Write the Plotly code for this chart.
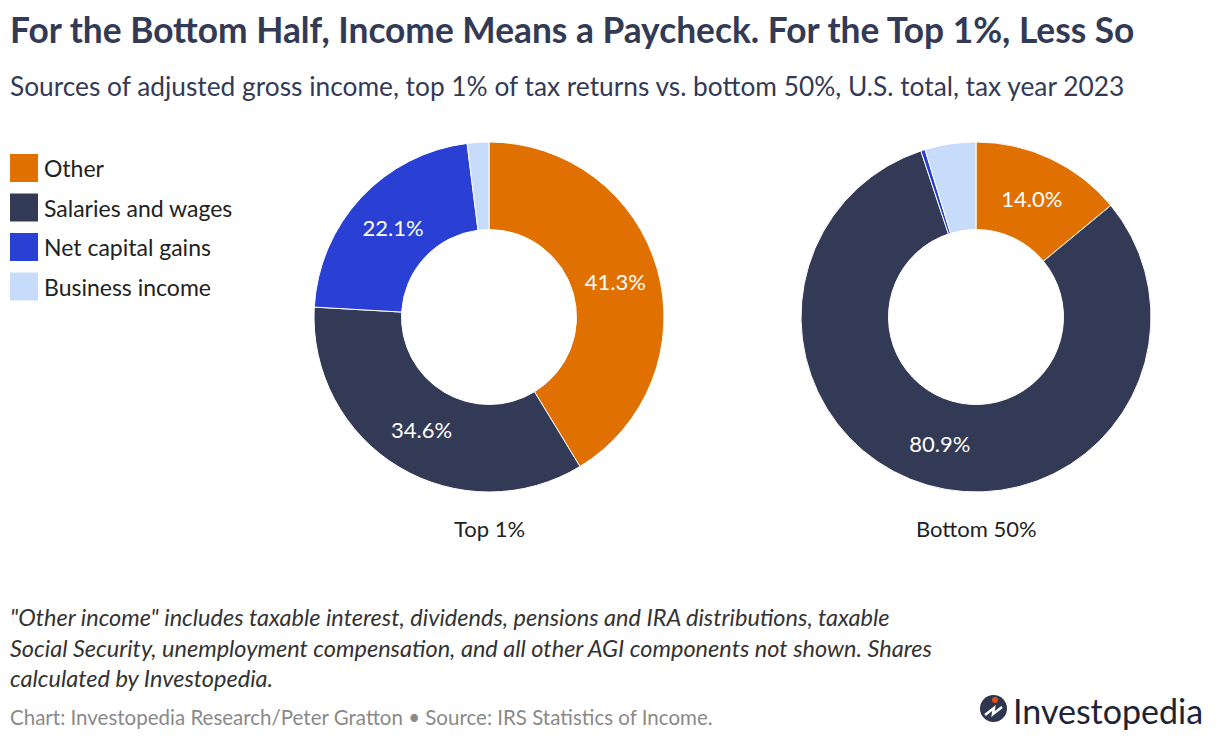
import plotly.graph_objects as go

# data
categories = ["Other", "Salaries and wages", "Net capital gains", "Business income"]
top1_values = [41.3, 34.6, 22.1, 2.0]
bottom50_values = [14.0, 80.9, 0.4, 4.7]
group_labels = ["Top 1%", "Bottom 50%"]
colors = ["#E07000", "#333A56", "#2A3FD3", "#C6DCFA"]

# page body adds an 8px margin, so the figure is a bit smaller and shifted
OFF = 8
W, H = 1220 - 2 * OFF, 740 - 2 * OFF
FONT = "Source Sans Pro, Lato, Noto Sans, sans-serif"
NAVY = "#333A56"


def px_x(x):
    return (x - OFF) / W


def px_y(y):
    return 1 - (y - OFF) / H


def pct_text(vals):
    return [f"{v:.1f}%" if v >= 5 else "" for v in vals]


fig = go.Figure()

# left pie centred ~ (489, 317), right ~ (976, 317), radius 175
for vals, cx in [(top1_values, 489), (bottom50_values, 976)]:
    fig.add_trace(go.Pie(
        labels=categories,
        values=vals,
        text=pct_text(vals),
        textinfo="text",
        hoverinfo="label+percent",
        sort=False,
        direction="clockwise",
        rotation=0,
        hole=0.5,
        marker=dict(colors=colors, line=dict(color="white", width=1)),
        textfont=dict(family=FONT, size=22, color="white"),
        insidetextorientation="horizontal",
        domain=dict(x=[px_x(cx - 175), px_x(cx + 175)], y=[px_y(492), px_y(142)]),
        showlegend=False,
    ))

# group labels under the donuts
for lab, cx in zip(group_labels, [489, 976]):
    fig.add_annotation(x=px_x(cx), y=px_y(528), text=lab, showarrow=False,
                       xanchor="center", yanchor="middle",
                       font=dict(family=FONT, size=22, color="#222222"))

# legend, drawn by hand so the swatches are big
for i, (cat, col) in enumerate(zip(categories, colors)):
    yc = 168 + i * 39.5
    fig.add_shape(type="rect", xref="paper", yref="paper",
                  x0=px_x(10), x1=px_x(38), y0=px_y(yc - 14), y1=px_y(yc + 14),
                  fillcolor=col, line=dict(width=0))
    fig.add_annotation(x=px_x(42), y=px_y(yc), text=cat, showarrow=False,
                       xanchor="left", yanchor="middle",
                       font=dict(family=FONT, size=23, color="#222222"))

# title + subtitle
fig.add_annotation(x=px_x(8), y=px_y(30), text="<b>For the Bottom Half, Income Means a Paycheck. For the Top 1%, Less So</b>",
                   showarrow=False, xanchor="left", yanchor="middle",
                   font=dict(family=FONT, size=35.3, color=NAVY))
fig.add_annotation(x=px_x(8), y=px_y(86),
                   text="Sources of adjusted gross income, top 1% of tax returns vs. bottom 50%, U.S. total, tax year 2023",
                   showarrow=False, xanchor="left", yanchor="middle",
                   font=dict(family=FONT, size=26.3, color=NAVY))

# footnote
note = ("<i>\"Other income\" includes taxable interest, dividends, pensions and IRA distributions, taxable<br>"
        "Social Security, unemployment compensation, and all other AGI components not shown. Shares<br>"
        "calculated by Investopedia.</i>")
fig.add_annotation(x=px_x(8), y=px_y(601), text=note, showarrow=False,
                   xanchor="left", yanchor="top", align="left",
                   font=dict(family=FONT, size=23.5, color="#333333"))
fig.add_annotation(x=px_x(8), y=px_y(717),
                   text="Chart: Investopedia Research/Peter Gratton • Source: IRS Statistics of Income.",
                   showarrow=False, xanchor="left", yanchor="middle",
                   font=dict(family=FONT, size=20.5, color="#8A8A8A"))

# logo
fig.add_shape(type="circle", xref="paper", yref="paper",
              x0=px_x(980), x1=px_x(1007), y0=px_y(722), y1=px_y(695),
              fillcolor="#2E3650", line=dict(width=0))
zig = [(985, 715), (994, 708), (993, 714), (1002, 707)]
path = "M " + " L ".join(f"{px_x(a)},{px_y(b)}" for a, b in zig)
fig.add_shape(type="path", xref="paper", yref="paper", path=path,
              line=dict(color="white", width=2.5))
fig.add_shape(type="circle", xref="paper", yref="paper",
              x0=px_x(992), x1=px_x(998), y0=px_y(703), y1=px_y(697),
              fillcolor="#E0501A", line=dict(width=0))
fig.add_annotation(x=px_x(1011), y=px_y(710), text="Investopedia", showarrow=False,
                   xanchor="left", yanchor="middle",
                   font=dict(family=FONT, size=34, color="#1E2436"))

fig.update_layout(
    width=W, height=H,
    margin=dict(l=0, r=0, t=0, b=0),
    paper_bgcolor="white",
    plot_bgcolor="white",
    font=dict(family=FONT),
)

fig.write_html("out.html")
